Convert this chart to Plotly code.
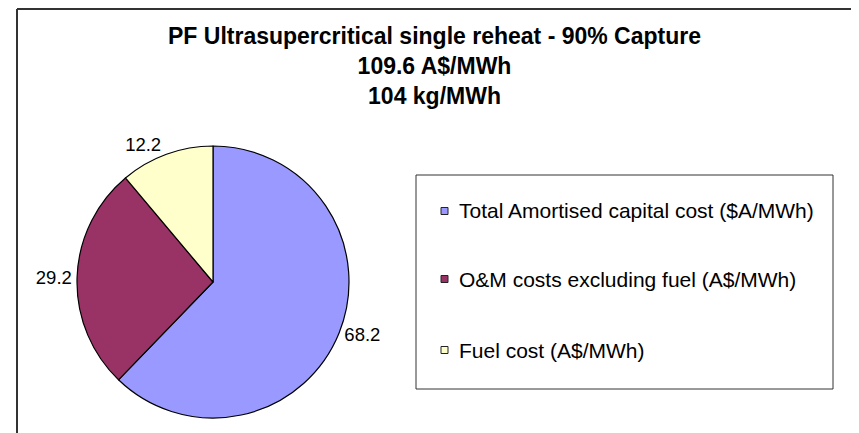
import plotly.graph_objects as go

# chart data
title_lines = ["PF Ultrasupercritical single reheat - 90% Capture", "109.6 A$/MWh", "104 kg/MWh"]
labels = ["Total Amortised capital cost ($A/MWh)",
          "O&M costs excluding fuel (A$/MWh)",
          "Fuel cost (A$/MWh)"]
values = [68.2, 29.2, 12.2]
colors = ["#9999FF", "#993366", "#FFFFCC"]

W, H = 859, 433
OFF = 8  # page body margin shifts the figure by this much
FONT = "Arial, Liberation Sans, sans-serif"


def px(x):
    return (x - OFF) / W


def py(y):
    return 1 - (y - OFF) / H


fig = go.Figure()

fig.add_trace(go.Pie(
    labels=labels,
    values=values,
    sort=False,
    direction="clockwise",
    rotation=0,
    marker=dict(colors=colors, line=dict(color="black", width=1.2)),
    textinfo="value",
    textposition="outside",
    textfont=dict(family=FONT, size=18.5, color="black"),
    domain=dict(x=[px(77), px(349)], y=[py(418), py(146)]),
    showlegend=False,
    hoverinfo="label+value",
))

frame = dict(color="#333333", width=2)
shapes = [
    # outer chart frame: left, top, right (no bottom edge in view)
    dict(type="line", xref="paper", yref="paper", x0=px(17), x1=px(17), y0=-0.1, y1=py(9), line=frame),
    dict(type="line", xref="paper", yref="paper", x0=px(17), x1=px(857), y0=py(9), y1=py(9), line=frame),
    dict(type="line", xref="paper", yref="paper", x0=px(857), x1=px(857), y0=-0.1, y1=py(9), line=frame),
    # legend box
    dict(type="rect", xref="paper", yref="paper",
         x0=px(416), x1=px(833), y0=py(389), y1=py(175),
         line=dict(color="#333333", width=1), fillcolor="white"),
]

annotations = [
    dict(text="<br>".join("<b>%s</b>" % t for t in title_lines), x=px(434), y=py(21),
         xref="paper", yref="paper", xanchor="center", yanchor="top",
         showarrow=False, font=dict(family=FONT, size=23, color="black")),
]

# hand-made legend, spaced like the original
item_y = [211, 279, 350]
for lab, col, yy in zip(labels, colors, item_y):
    shapes.append(dict(type="rect", xref="paper", yref="paper",
                       x0=px(441), x1=px(448), y0=py(yy + 3.5), y1=py(yy - 3.5),
                       line=dict(color="#222222", width=1), fillcolor=col))
    annotations.append(dict(text=lab, x=px(457), y=py(yy), xref="paper", yref="paper",
                            xanchor="left", yanchor="middle", showarrow=False,
                            font=dict(family=FONT, size=21, color="black")))

fig.update_layout(
    width=W, height=H,
    margin=dict(l=0, r=0, t=0, b=0),
    paper_bgcolor="white",
    plot_bgcolor="white",
    font=dict(family=FONT),
    shapes=shapes,
    annotations=annotations,
)

fig.write_html("out.html")
